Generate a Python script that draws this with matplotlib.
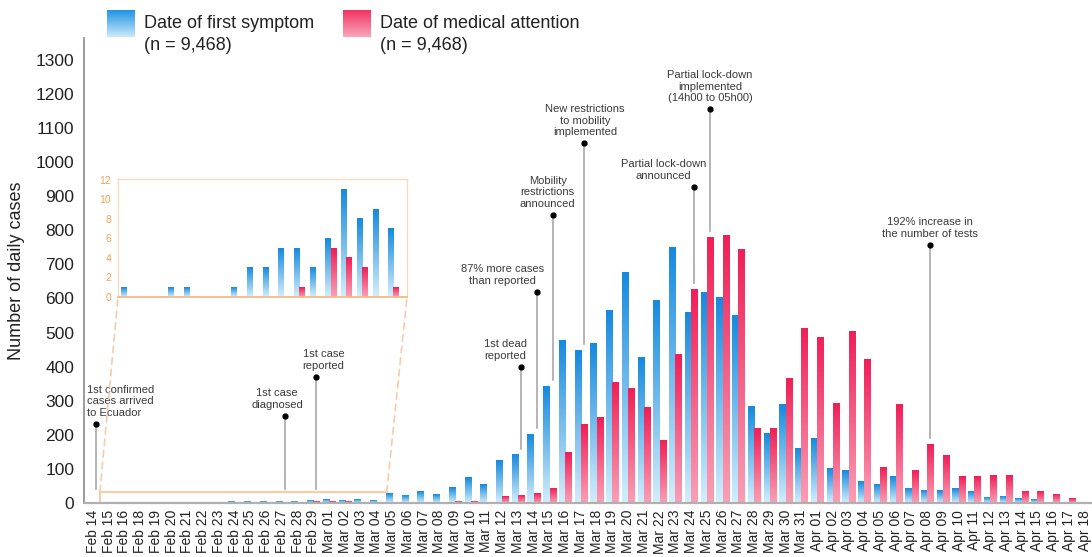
import numpy as np
import matplotlib
matplotlib.use("Agg")
import matplotlib.pyplot as plt
from matplotlib.colors import LinearSegmentedColormap
from matplotlib.patches import Rectangle, ConnectionPatch

plt.rcParams['font.family'] = ['Liberation Sans', 'DejaVu Sans']

days = (["Feb 14", "Feb 15", "Feb 16", "Feb 18", "Feb 19", "Feb 20", "Feb 21", "Feb 22",
         "Feb 23", "Feb 24", "Feb 25", "Feb 26", "Feb 27", "Feb 28", "Feb 29"]
        + [f"Mar {d:02d}" for d in range(1, 32)]
        + [f"Apr {d:02d}" for d in range(1, 19)])

first_symptom = [0, 1, 0, 0, 1, 1, 0, 0, 1, 3, 3, 5, 5, 3, 6, 11, 8, 9, 7,
                 28, 21, 33, 25, 45, 74, 55, 126, 141, 202, 343, 478, 447, 468, 566,
                 675, 428, 595, 750, 558, 617, 602, 550, 283, 205, 288, 161,
                 190, 100, 96, 63, 53, 77, 43, 36, 36, 43, 35, 17, 18, 14, 9, 2, 0, 0]
medical_attention = [0, 0, 0, 0, 0, 0, 0, 0, 0, 0, 0, 0, 1, 0, 5, 4, 3, 0, 1,
                     1, 0, 2, 0, 3, 4, 2, 18, 23, 28, 42, 148, 229, 250, 353,
                     335, 280, 182, 437, 627, 779, 786, 744, 218, 218, 366, 511,
                     486, 293, 502, 422, 105, 288, 95, 172, 139, 78, 78, 82, 82, 35, 35, 25, 12, 0]

# (day, height of the marker, text, text x-offset px, alignment)
events = [
    ("Feb 14", 232, "1st confirmed\ncases arrived\nto Ecuador", -9, "left"),
    ("Feb 27", 255, "1st case\ndiagnosed", -8, "center"),
    ("Feb 29", 370, "1st case\nreported", 7, "center"),
    ("Mar 13", 399, "1st dead\nreported", -16, "center"),
    ("Mar 14", 620, "87% more cases\nthan reported", -34, "center"),
    ("Mar 15", 845, "Mobility\nrestrictions\nannounced", -5, "center"),
    ("Mar 17", 1055, "New restrictions\nto mobility\nimplemented", 1, "center"),
    ("Mar 24", 928, "Partial lock-down\nannounced", -31, "center"),
    ("Mar 25", 1155, "Partial lock-down\nimplemented\n(14h00 to 05h00)", 0, "center"),
    ("Apr 08", 757, "192% increase in\nthe number of tests", 0, "center"),
]

n_inset = 19  # Feb 14 .. Mar 04

BLUE_TOP, BLUE_BOT = "#168ade", "#d3eefc"
RED_TOP, RED_BOT = "#f01f58", "#fa9fb5"
ORANGE = "#f9cba6"


def gradient_bars(ax, bars, top, bot):
    cmap = LinearSegmentedColormap.from_list("g", [bot, top])
    grad = np.linspace(0, 1, 64).reshape(-1, 1)
    for b in bars:
        h = b.get_height()
        b.set_visible(False)
        if h <= 0:
            continue
        x0, y0, w = b.get_x(), b.get_y(), b.get_width()
        ax.imshow(grad, extent=[x0, x0 + w, y0, y0 + h], origin="lower", cmap=cmap,
                  aspect="auto", interpolation="bilinear", zorder=2)


W, H = 1092, 557
fig = plt.figure(figsize=(W / 100, H / 100), dpi=100)


def px(x0, y0, x1, y1):
    return [x0 / W, 1 - y1 / H, (x1 - x0) / W, (y1 - y0) / H]


ax = fig.add_axes(px(84, 38, 1092, 503))
x = np.arange(len(days))
bw = 0.39
b1 = ax.bar(x - 0.2, first_symptom, bw)
b2 = ax.bar(x + 0.2, medical_attention, bw)
gradient_bars(ax, b1, BLUE_TOP, BLUE_BOT)
gradient_bars(ax, b2, RED_TOP, RED_BOT)

ax.set_xlim(-0.57, 63.47)
ax.set_ylim(0, 1364)
ax.set_xticks(x)
ax.set_xticklabels(days, rotation=90, fontsize=10, color="#222222")
ax.set_yticks(np.arange(0, 1301, 100))
ax.tick_params(axis="y", length=0, pad=7, labelsize=12.5, labelcolor="#222222")
ax.tick_params(axis="x", length=0, pad=5)
ax.set_ylabel("Number of daily cases", fontsize=13, color="#222222", labelpad=8)
for s in ("top", "right"):
    ax.spines[s].set_visible(False)
ax.spines["left"].set_color("#9c9c9c")
ax.spines["left"].set_linewidth(1.4)
ax.spines["bottom"].set_color("#b0b0b0")
ax.spines["bottom"].set_linewidth(1.6)

# event markers
for day, hgt, txt, dx, ha in events:
    i = days.index(day)
    xe = i + 0.2
    bottom = max(max(first_symptom[i], medical_attention[i]) + 18, 40)
    ax.plot([xe, xe], [bottom, hgt], color="#a8a8a8", lw=1.2, zorder=3)
    ax.plot(xe, hgt, "o", color="black", ms=3.5, zorder=4)
    ax.annotate(txt, xy=(xe, hgt), xytext=(dx, 6), textcoords="offset pixels",
                ha=ha, va="bottom", fontsize=8, color="#3a3a3a", linespacing=1.2,
                zorder=5)

# zoom rectangle and inset
ax.add_patch(Rectangle((0.44, 0), 18.22, 32, fill=False, ec=ORANGE, lw=1.5, zorder=1.5))

axin = fig.add_axes(px(118, 179, 407, 297))
xi = np.arange(n_inset)
bwi = 0.32
c1 = axin.bar(xi - 0.16, first_symptom[:n_inset], bwi)
c2 = axin.bar(xi + 0.16, medical_attention[:n_inset], bwi)
gradient_bars(axin, c1, BLUE_TOP, BLUE_BOT)
gradient_bars(axin, c2, RED_TOP, RED_BOT)
axin.set_xlim(0.5, 18.86)
axin.set_ylim(0, 12.1)
axin.set_yticks(np.arange(0, 13, 2))
axin.set_xticks([])
axin.tick_params(axis="y", length=0, pad=5, labelsize=7.5, labelcolor="#f3a257")
for s in axin.spines.values():
    s.set_color("#fbd9bd")
    s.set_linewidth(1.0)
axin.spines["bottom"].set_color("#f6b987")
axin.spines["bottom"].set_linewidth(1.3)

for xa, xb in ((0.44, 0), (18.66, 1)):
    con = ConnectionPatch(xyA=(xa, 32), coordsA=ax.transData, xyB=(xb, 0),
                          coordsB=axin.transAxes, color=ORANGE, lw=1.2, ls=(0, (4, 3)))
    fig.add_artist(con)

# legend
cm_b = LinearSegmentedColormap.from_list("lb", ["#c9e8fb", "#2196e4"])
cm_r = LinearSegmentedColormap.from_list("lr", ["#f9a6ba", "#f23462"])
grad = np.linspace(0, 1, 32).reshape(-1, 1)
for (x0, cm, label) in ((107, cm_b, "Date of first symptom"),
                        (343, cm_r, "Date of medical attention")):
    lax = fig.add_axes(px(x0, 10, x0 + 28, 37))
    lax.imshow(grad, origin="lower", cmap=cm, aspect="auto")
    lax.axis("off")
    fig.text((x0 + 37) / W, 1 - 24 / H, label, fontsize=13, color="#222222", va="center")
    fig.text((x0 + 37) / W, 1 - 46 / H, "(n = 9,468)", fontsize=13, color="#222222", va="center")

fig.savefig("out.png", dpi=100)
